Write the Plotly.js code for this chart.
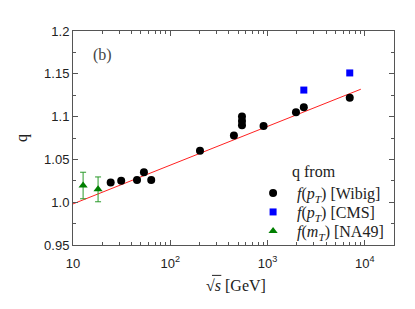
<!DOCTYPE html>
<html><head><meta charset="utf-8">
<script src="https://cdn.plot.ly/plotly-3.0.1.min.js"></script>
<style>body{margin:0;padding:0;background:#fff}#chart{width:415px;height:309px}</style>
</head><body><div id="chart"></div>
<script>
// Wibig data: f(pT)
const wibigS = [24.4, 31.3, 45.5, 53.6, 63.7, 202, 451, 546, 546, 546, 910, 1960, 2360, 7000];
const wibigQ = [1.023, 1.025, 1.026, 1.035, 1.026, 1.060, 1.078, 1.100, 1.095, 1.090, 1.089, 1.105, 1.111, 1.122];
// CMS f(pT)
const cmsS = [2360, 7000];
const cmsQ = [1.131, 1.151];
// NA49 f(mT)
const na49S = [12.7, 18.1];
const na49Q = [1.0195, 1.015];
const na49Err = [0.0155, 0.0145];
// fitted line endpoints
const fitS = [10, 9100];
const fitQ = [0.998, 1.132];
// tick labels
const xTickVals = [10, 100, 1000, 10000];
const xTickText = ['10', '10<sup>2</sup>', '10<sup>3</sup>', '10<sup>4</sup>'];
const yTickVals = [0.95, 1.0, 1.05, 1.1, 1.15, 1.2];
const yTickText = ['0.95', '1.0', '1.05', '1.1', '1.15', '1.2'];

const serif = 'Liberation Serif, Times New Roman, serif';
const sans = 'Liberation Sans, Arial, sans-serif';

const traces = [
  {x: fitS, y: fitQ, mode: 'lines', line: {color: '#ff2020', width: 1}, showlegend: false, hoverinfo: 'skip'},
  {x: wibigS, y: wibigQ, mode: 'markers', name: '&nbsp;<i>f</i>(<i>p<sub>T</sub></i>) [Wibig]', legend: 'legend',
   marker: {color: '#000', size: 8, symbol: 'circle'}},
  {x: cmsS, y: cmsQ, mode: 'markers', name: '&nbsp;<i>f</i>(<i>p<sub>T</sub></i>) [CMS]', legend: 'legend2',
   marker: {color: '#0000ff', size: 7, symbol: 'square'}},
  {x: na49S, y: na49Q, mode: 'markers', name: '&nbsp;<i>f</i>(<i>m<sub>T</sub></i>) [NA49]', legend: 'legend3',
   marker: {color: '#007f00', size: 8, symbol: 'triangle-up'},
   error_y: {type: 'data', array: na49Err, visible: true, color: '#2a9a2a', thickness: 1, width: 3}}
];

const axisCommon = {
  showline: true, linecolor: '#555', linewidth: 1, mirror: 'allticks',
  ticks: 'inside', ticklen: 5, tickcolor: '#555', tickwidth: 1,
  showgrid: false, zeroline: false,
  tickfont: {family: sans, size: 13, color: '#222'}
};

function legendAt(y) {
  return {
    x: 0.561, y: y, xanchor: 'left', yanchor: 'middle',
    bgcolor: 'rgba(0,0,0,0)', borderwidth: 0,
    font: {family: serif, size: 16, color: '#222'},
    itemwidth: 30, tracegroupgap: 0
  };
}

const layout = {
  width: 415, height: 309,
  margin: {l: 73, r: 21, t: 31, b: 64, autoexpand: false},
  paper_bgcolor: '#fff', plot_bgcolor: '#fff',
  xaxis: Object.assign({}, axisCommon, {
    type: 'log', range: [1, 4.3],
    tickmode: 'array', tickvals: xTickVals, ticktext: xTickText,
    ticklabelstandoff: 6,
    minor: {ticks: 'inside', ticklen: 3, tickcolor: '#555', dtick: 'D1', showgrid: false}
  }),
  yaxis: Object.assign({}, axisCommon, {
    range: [0.95, 1.2],
    tickmode: 'array', tickvals: yTickVals, ticktext: yTickText,
    minor: {ticks: 'inside', ticklen: 3, tickcolor: '#555', dtick: 0.025, showgrid: false}
  }),
  showlegend: true,
  legend: legendAt(0.243),
  legend2: legendAt(0.154),
  legend3: legendAt(0.065),
  annotations: [
    {text: 'q from', xref: 'paper', yref: 'paper', x: 0.751, y: 0.341, xanchor: 'center', yanchor: 'middle',
     showarrow: false, font: {family: serif, size: 16, color: '#222'}},
    {text: '(b)', xref: 'paper', yref: 'paper', x: 0.093, y: 0.888, xanchor: 'center', yanchor: 'middle',
     showarrow: false, font: {family: serif, size: 16, color: '#444'}},
    {text: '√<i>s</i> [GeV]', xref: 'paper', yref: 'paper',
     x: 0.509, y: -0.187, xanchor: 'center', yanchor: 'middle', showarrow: false,
     font: {family: serif, size: 16, color: '#222'}},
    {text: 'q', xref: 'paper', yref: 'paper', x: -0.159, y: 0.5, xanchor: 'center', yanchor: 'middle',
     textangle: -90, showarrow: false, font: {family: serif, size: 16, color: '#222'}}
  ],
  shapes: [
    {type: 'line', xref: 'paper', yref: 'paper', x0: 0.433, x1: 0.462, y0: -0.142, y1: -0.142,
     line: {color: '#222', width: 1}}
  ]
};

Plotly.newPlot('chart', traces, layout, {staticPlot: true, displayModeBar: false});
</script>
</body></html>
